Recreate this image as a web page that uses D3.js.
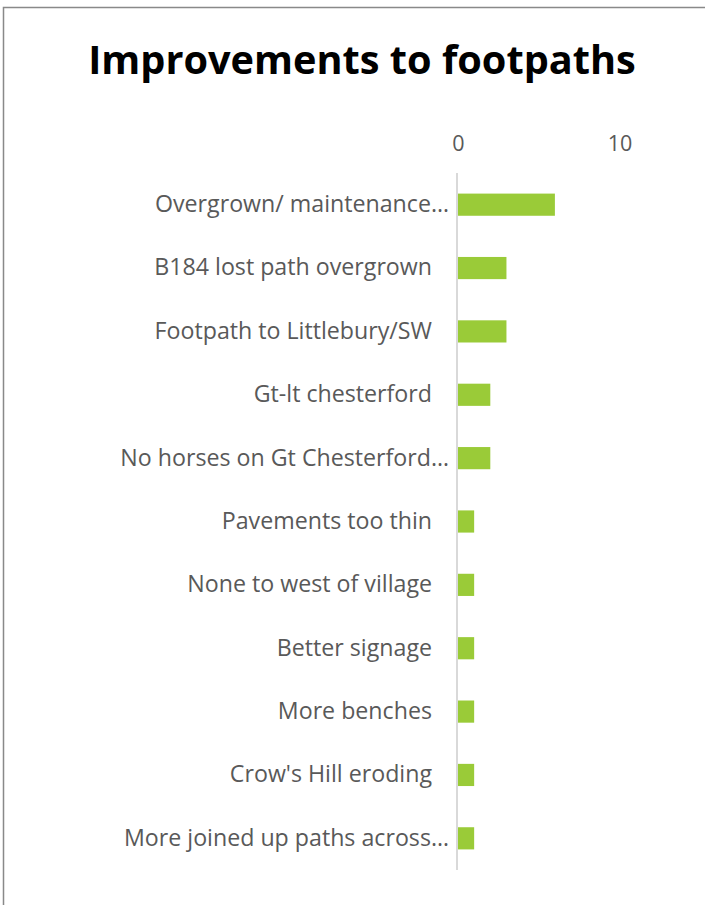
<!DOCTYPE html>
<html><head><meta charset="utf-8">
<script src="https://cdn.jsdelivr.net/npm/d3@7"></script>
<style>
body{margin:0;background:#fff;}
svg{display:block;}
</style></head>
<body>
<svg id="chart" width="705" height="905"></svg>
<script>
const categories = ["Overgrown/ maintenance…","B184 lost path overgrown","Footpath to Littlebury/SW","Gt-lt chesterford","No horses on Gt Chesterford…","Pavements too thin","None to west of village","Better signage","More benches","Crow's Hill eroding","More joined up paths across…"];
const values = [6,3,3,2,2,1,1,1,1,1,1];
const tickValues = [0,10];

const svg = d3.select("#chart");
const font = "'Open Sans', sans-serif";

// border
svg.append("path").attr("d","M3.5,905 V7.5 H705").attr("fill","none").attr("stroke","#898989").attr("stroke-width",1.5);

svg.append("text").attr("x",362).attr("y",74).attr("text-anchor","middle")
  .attr("font-family",font).attr("font-weight","bold").attr("font-size",39.7).attr("fill","#000")
  .text("Improvements to footpaths");

const x = d3.scaleLinear().domain([0,10]).range([458,619.5]);
const y = d3.scaleBand().domain(categories).range([173,870]).paddingInner(0.65).paddingOuter(0.325);

svg.selectAll("rect.bar").data(values).join("rect").attr("class","bar")
  .attr("x",x(0)).attr("y",(d,i)=>y(categories[i]))
  .attr("width",d=>x(d)-x(0)).attr("height",y.bandwidth())
  .attr("fill","#9ACB38");

// axis line
svg.append("line").attr("x1",457).attr("x2",457).attr("y1",173).attr("y2",870)
  .attr("stroke","#d9d9d9").attr("stroke-width",2);

const xAxis = d3.axisTop(x).tickValues(tickValues).tickSize(0).tickPadding(0);
const gx = svg.append("g").attr("transform","translate(0,151)").call(xAxis);
gx.select(".domain").remove();
gx.selectAll("text").attr("font-family",font).attr("font-size",21.5).attr("fill","#595959");

const yAxis = d3.axisLeft(y).tickSize(0).tickPadding(0);
const gy = svg.append("g").attr("transform","translate(432,0)").call(yAxis);
gy.select(".domain").remove();
gy.selectAll("text").attr("font-family",font).attr("font-size",23.2).attr("fill","#595959")
  .attr("dy","0.32em")
  .attr("x",d=>d.endsWith("…")?17:0);
</script>
</body></html>
